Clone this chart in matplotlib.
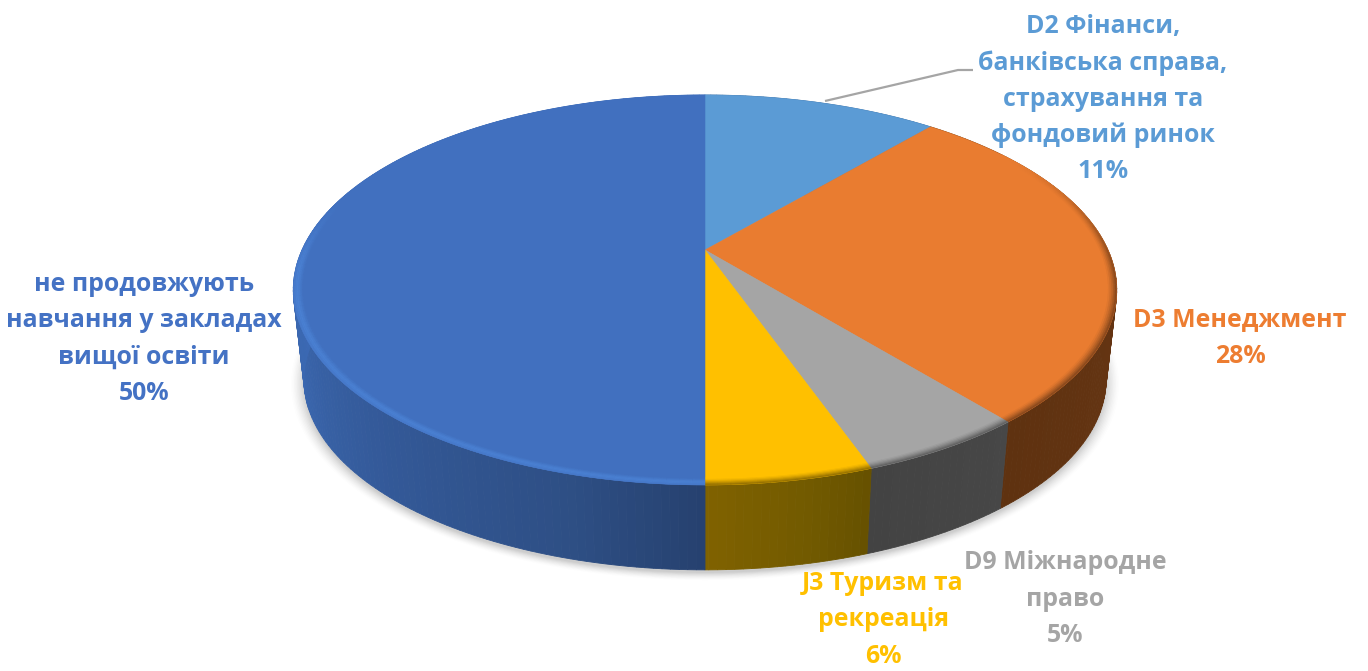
import numpy as np
import matplotlib
matplotlib.use("Agg")
import matplotlib.pyplot as plt
from matplotlib.colors import to_rgb

# --- data -------------------------------------------------------------
categories = ["D2 Фінанси,\nбанківська справа,\nстрахування та\nфондовий ринок",
              "D3 Менеджмент",
              "D9 Міжнародне\nправо",
              "J3 Туризм та\nрекреація",
              "не продовжують\nнавчання у закладах\nвищої освіти"]
values = [11.2, 27.9, 5.5, 5.4, 50.0]
percent_labels = ["11%", "28%", "5%", "6%", "50%"]
top_colors = ["#5B9BD5", "#E97C30", "#A5A5A5", "#FFC000", "#4170BF"]
text_colors = ["#5B9BD5", "#ED7D31", "#A5A5A5", "#FFC000", "#4472C4"]
label_centers = [(1103, 99), (1240, 338), (1065, 599), (883, 620), (144, 339)]

# --- perspective model ----------------------------------------------
CX, CY = 705.0, 250.0
R, S, K = 403.0, 186.8, 0.205
SCALE_BOTTOM, BOTTOM_CY = 0.974, 341.0


def top_xy(theta, r=1.0):
    """theta: clockwise from the back of the pie, radians."""
    u = r * np.sin(theta)
    v = -r * np.cos(theta)
    d = 1 - K * v
    return CX + R * u / d, CY + S * v / d


def bottom_xy(theta, r=1.0):
    x, y = top_xy(theta, r)
    return CX + (x - CX) * SCALE_BOTTOM, BOTTOM_CY + (y - CY) * SCALE_BOTTOM


def side_color(i, th):
    """Shaded colour of the wall of slice i at angle th (degrees)."""
    if i == 4:
        xs = [180, 196, 225, 250, 270, 300]
        cols = ["#26416F", "#2E4F85", "#345A9A", "#3A66AD", "#3C6AB5", "#3C6AB5"]
    elif i == 3:
        xs = [160, 168, 180]
        cols = ["#655000", "#725A00", "#806200"]
    elif i == 2:
        xs = [140, 160]
        cols = ["#474747", "#434343"]
    elif i == 1:
        xs = [40, 100, 140]
        cols = ["#6B3A13", "#663513", "#5F3210"]
    else:
        xs = [0, 40]
        cols = ["#3F6FA0", "#3F6FA0"]
    rgb = np.array([to_rgb(c) for c in cols])
    return tuple(np.interp(th, xs, rgb[:, k]) for k in range(3))


def smooth(a, b, x):
    z = np.clip((x - a) / (b - a), 0, 1)
    return z * z * (3 - 2 * z)


fig = plt.figure(figsize=(13.68, 6.71), dpi=100)
ax = fig.add_axes([0, 0, 1, 1])
ax.set_xlim(0, 1368)
ax.set_ylim(671, 0)
ax.axis("off")

edges = np.concatenate([[0], np.cumsum(values)]) / sum(values) * 360.0

# soft shadow under the pie
full = np.radians(np.linspace(0, 360, 361))
for k, a in zip(np.linspace(1.032, 1.0, 10), np.linspace(0.012, 0.05, 10)):
    sx, sy = bottom_xy(full)
    ax.fill(CX + (sx - CX) * k, BOTTOM_CY + 3 + (sy - BOTTOM_CY) * k,
            color="#555555", alpha=a, lw=0, zorder=1)

# side wall
for i in range(len(values)):
    grid = np.arange(edges[i], edges[i + 1], 1.0)
    grid = np.r_[grid, edges[i + 1]]
    for a0, a1 in zip(grid[:-1], grid[1:]):
        t = np.radians([a0, a1])
        xt, yt = top_xy(t)
        xb, yb = bottom_xy(t)
        c = side_color(i, (a0 + a1) / 2)
        ax.fill([xt[0], xt[1], xb[1], xb[0]], [yt[0], yt[1], yb[1], yb[0]],
                color=c, lw=0.6, ec=c, zorder=2)

# top face with a soft bevelled rim
steps = np.linspace(0.976, 1.0, 7)
for i in range(len(values)):
    t = np.radians(np.linspace(edges[i], edges[i + 1], 200))
    x, y = top_xy(t)
    ax.fill(np.r_[CX, x], np.r_[CY, y], color=top_colors[i], lw=0.4,
            ec=top_colors[i], zorder=3)

    base = np.array(to_rgb(top_colors[i]))
    if i == 4:
        target = np.array(to_rgb("#4A80D2"))
    else:
        target = base * 0.6
    grid = np.r_[np.arange(edges[i], edges[i + 1], 1.5), edges[i + 1]]
    for a0, a1 in zip(grid[:-1], grid[1:]):
        mid = (a0 + a1) / 2
        if mid < 55 or mid > 290:
            continue
        # the rim effect fades out toward the back of the pie
        strength = smooth(55, 100, mid) * (1 - smooth(262, 290, mid))
        for r0, r1, f in zip(steps[:-1], steps[1:], np.linspace(0, 1, 6)):
            profile = f ** 1.4 if i != 4 else np.sin(np.pi * (0.08 + 0.62 * f)) ** 2
            col = base + (target - base) * profile * strength
            ta = np.radians([a0, a1])
            xo, yo = top_xy(ta, r1)
            xi, yi = top_xy(ta[::-1], r0)
            c = tuple(np.clip(col, 0, 1))
            ax.fill(np.r_[xo, xi], np.r_[yo, yi], color=c, ec=c, lw=0.3, zorder=4)

# leader line of the first label
ax.plot([825, 958, 973], [101, 70, 70], color="#A5A5A5", lw=1.6, zorder=5,
        solid_capstyle="butt")

# labels
for name, pct, col, (lx, ly) in zip(categories, percent_labels, text_colors, label_centers):
    ax.text(lx, ly, f"{name}\n{pct}", color=col, ha="center", va="center",
            fontsize=17.9, fontweight="bold", family="Open Sans",
            linespacing=1.58, zorder=6)

fig.savefig("out.png", dpi=100)
